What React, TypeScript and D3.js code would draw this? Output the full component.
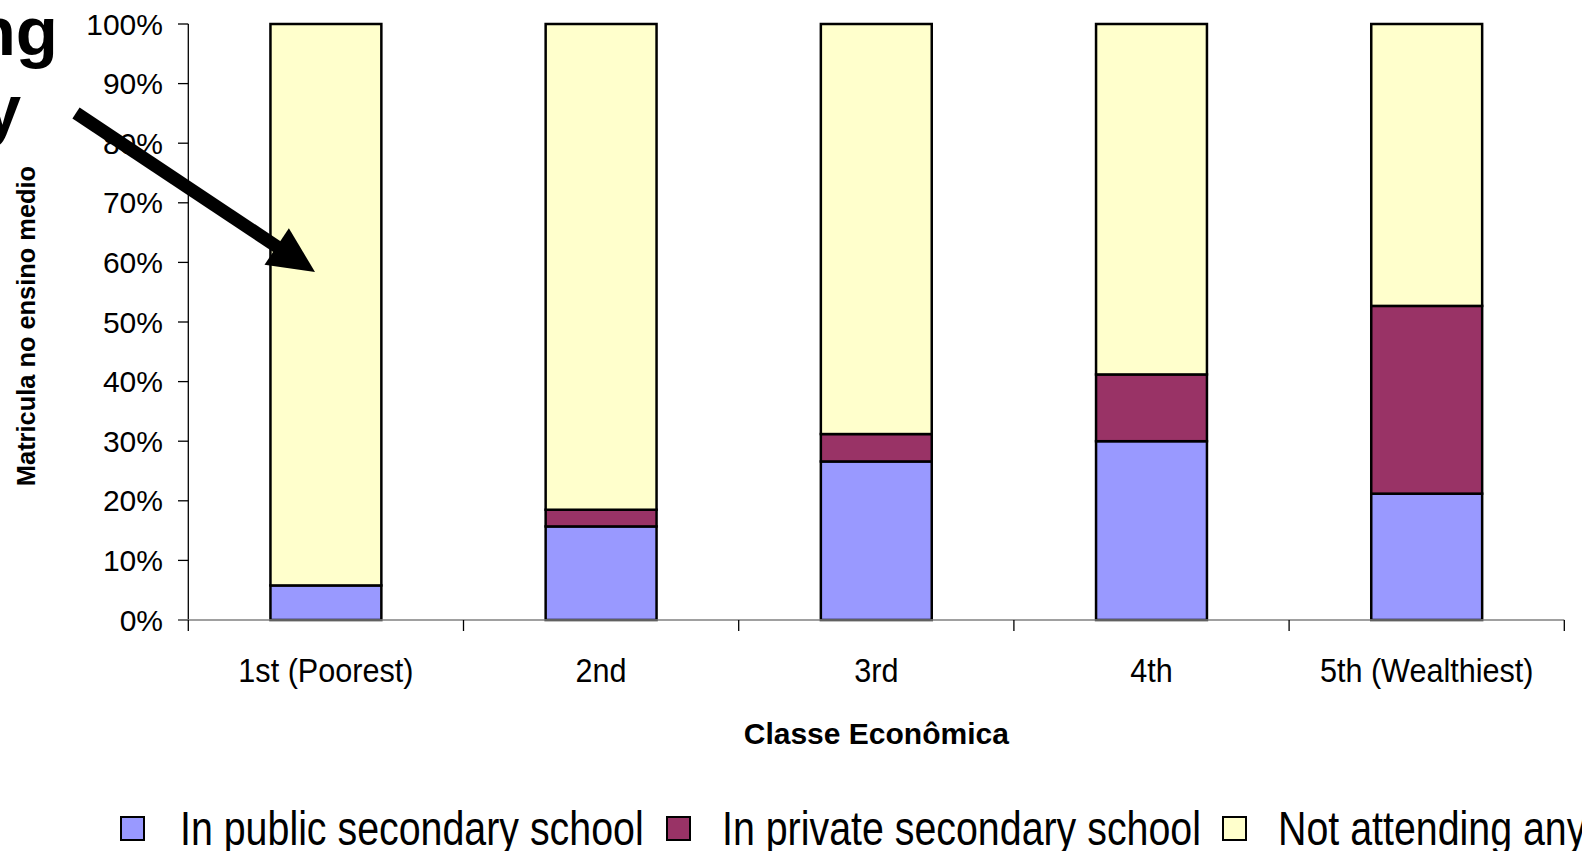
import React from "react";
import * as d3 from "d3";

// Secondary school enrolment by economic class (share of age group, %)
const categories = ["1st (Poorest)", "2nd", "3rd", "4th", "5th (Wealthiest)"];
const publicSchool = [5.8, 15.7, 26.6, 30.0, 21.2];
const privateSchool = [0.0, 2.8, 4.6, 11.2, 31.5];
const notAttending = [94.2, 81.5, 68.8, 58.8, 47.3];

const seriesNames = [
  "In public secondary school",
  "In private secondary school",
  "Not attending any",
];
const seriesColors = ["#9999FF", "#993366", "#FFFFCC"];
const yTicks = [0, 10, 20, 30, 40, 50, 60, 70, 80, 90, 100];

const W = 1582;
const H = 851;
const FONT = "'Liberation Sans', Arial, Helvetica, sans-serif";

export default function App() {
  const plotLeft = 188.3;
  const plotRight = 1564.3;
  const plotTop = 24;
  const plotBottom = 620;

  const x = d3.scaleBand<string>().domain(categories).range([plotLeft, plotRight]).padding(0);
  const y = d3.scaleLinear().domain([0, 100]).range([plotBottom, plotTop]);
  const step = x.step();
  const barW = step * 0.403;

  const rows = categories.map((c, i) => ({
    cat: c,
    s0: publicSchool[i],
    s1: privateSchool[i],
    s2: notAttending[i],
  }));
  const stacked = d3.stack<any>().keys(["s0", "s1", "s2"])(rows);

  // legend layout
  const legendItems = [
    { box: 121, text: 180 },
    { box: 667, text: 722 },
    { box: 1223, text: 1278 },
  ];

  // arrow geometry
  const aStart: [number, number] = [76, 113];
  const aTip: [number, number] = [315, 272];
  const dirx = aTip[0] - aStart[0];
  const diry = aTip[1] - aStart[1];
  const len = Math.hypot(dirx, diry);
  const ux = dirx / len;
  const uy = diry / len;
  const headLen = 46;
  const headHalf = 22;
  const baseX = aTip[0] - ux * headLen;
  const baseY = aTip[1] - uy * headLen;
  const headPts = [
    [aTip[0], aTip[1]],
    [baseX - uy * headHalf, baseY + ux * headHalf],
    [baseX + uy * headHalf, baseY - ux * headHalf],
  ];

  const boundaries = d3.range(categories.length + 1).map((i) => plotLeft + i * step);

  return (
    <svg
      width={W}
      height={H}
      style={{ position: "absolute", left: 0, top: 0, background: "#fff" }}
      fontFamily={FONT}
    >
      <rect x={0} y={0} width={W} height={H} fill="#fff" />

      {/* slide title fragments at the left edge */}
      <text x={58} y={55} fontSize={69} fontWeight="bold" textAnchor="end" fill="#000">
        ng
      </text>
      <text x={21} y={133} fontSize={69} fontWeight="bold" textAnchor="end" fill="#000">
        y
      </text>

      {/* y axis */}
      <line x1={plotLeft} x2={plotLeft} y1={plotTop} y2={plotBottom} stroke="#000" strokeWidth={1.3} />
      {yTicks.map((t) => (
        <g key={t}>
          <line x1={178} x2={plotLeft} y1={y(t)} y2={y(t)} stroke="#000" strokeWidth={1.3} />
          <text x={163} y={y(t)} dy="0.35em" fontSize={30} textAnchor="end" fill="#000">
            {t}%
          </text>
        </g>
      ))}

      {/* bars */}
      {stacked.map((layer, si) =>
        layer.map((d, i) => {
          const bx = (x(categories[i]) as number) + (step - barW) / 2;
          return (
            <rect
              key={`${si}-${i}`}
              x={bx}
              y={y(d[1])}
              width={barW}
              height={Math.max(0, y(d[0]) - y(d[1]))}
              fill={seriesColors[si]}
              stroke="#000"
              strokeWidth={2.5}
            />
          );
        })
      )}

      {/* x axis */}
      <line x1={178} x2={plotRight} y1={plotBottom} y2={plotBottom} stroke="#808080" strokeWidth={1.5} />
      {boundaries.map((bx, i) => (
        <line key={i} x1={bx} x2={bx} y1={plotBottom} y2={plotBottom + 11} stroke="#000" strokeWidth={1.3} />
      ))}
      {categories.map((c) => {
        const cx = (x(c) as number) + step / 2;
        return (
          <text
            key={c}
            transform={`translate(${cx},${682}) scale(0.9,1)`}
            fontSize={34}
            textAnchor="middle"
            fill="#000"
          >
            {c}
          </text>
        );
      })}

      {/* axis titles */}
      <text
        x={(plotLeft + plotRight) / 2}
        y={744}
        fontSize={30}
        fontWeight="bold"
        textAnchor="middle"
        fill="#000"
      >
        Classe Econômica
      </text>
      <text
        transform={`translate(35,326) rotate(-90)`}
        fontSize={25.4}
        fontWeight="bold"
        textAnchor="middle"
        fill="#000"
      >
        Matricula no ensino medio
      </text>

      {/* legend */}
      {legendItems.map((it, i) => (
        <g key={i}>
          <rect x={it.box} y={817} width={23} height={23} fill={seriesColors[i]} stroke="#000" strokeWidth={2} />
          <text
            transform={`translate(${it.text},845) scale(0.82,1)`}
            fontSize={48}
            fill="#000"
          >
            {seriesNames[i]}
          </text>
        </g>
      ))}

      {/* pointer arrow */}
      <line
        x1={aStart[0]}
        y1={aStart[1]}
        x2={baseX + ux * 2}
        y2={baseY + uy * 2}
        stroke="#000"
        strokeWidth={13}
      />
      <polygon points={headPts.map((p) => p.join(",")).join(" ")} fill="#000" />
    </svg>
  );
}
